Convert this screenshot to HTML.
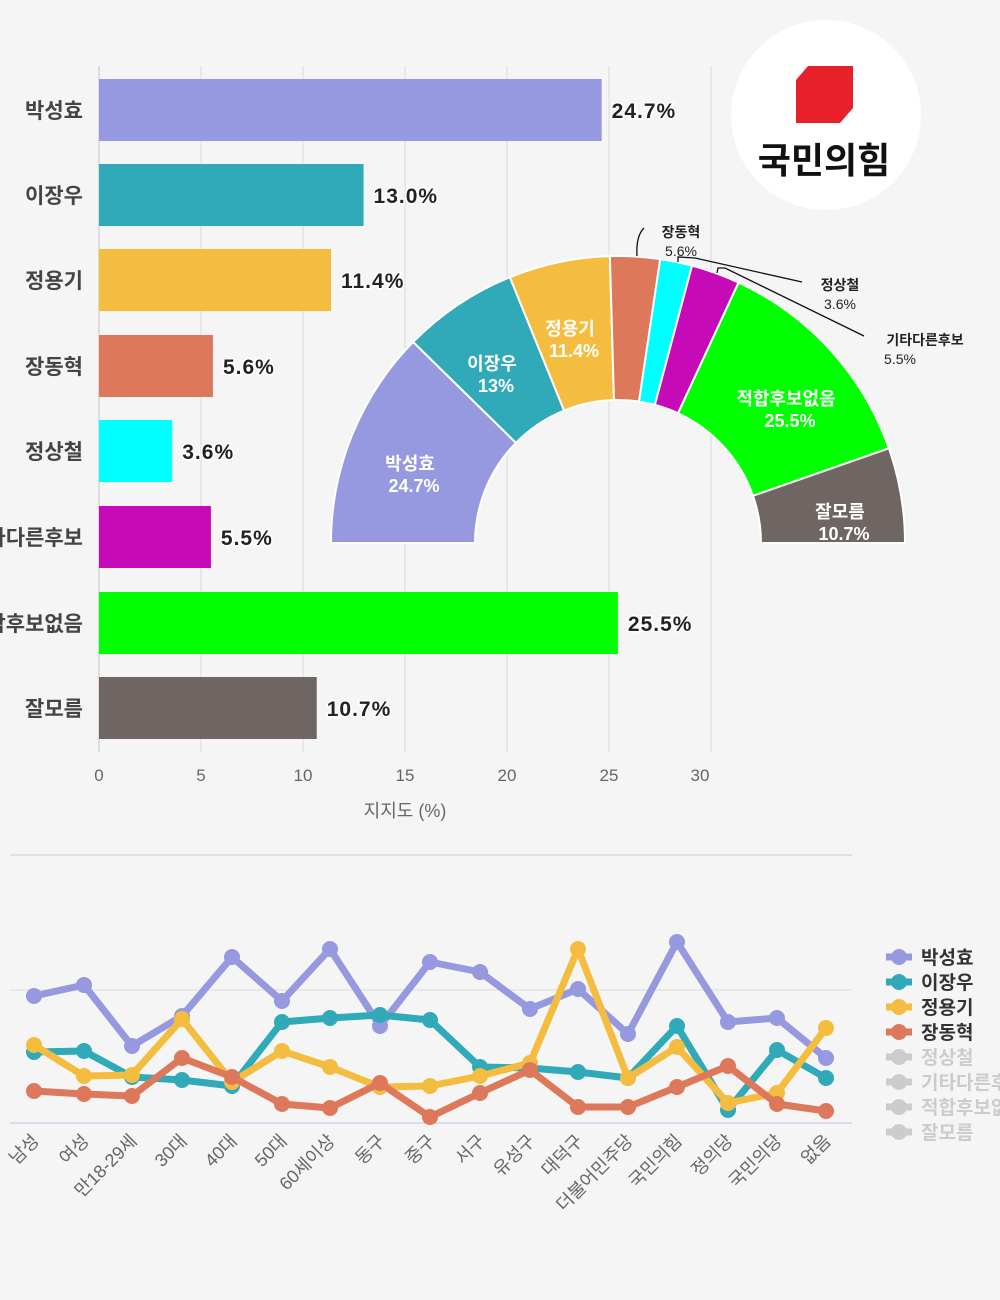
<!DOCTYPE html>
<html><head><meta charset="utf-8">
<style>
body{margin:0;background:#f5f5f5;}
svg{display:block;font-family:"Liberation Sans","Noto Sans CJK KR",sans-serif;}
</style></head><body>
<svg id="s" width="1000" height="1300" viewBox="0 0 1000 1300" xmlns="http://www.w3.org/2000/svg">
<rect width="1000" height="1300" fill="#f5f5f5"/>
<g stroke="#e3e3e3" stroke-width="1.5">
<line x1="201" y1="66" x2="201" y2="752"/><line x1="303" y1="66" x2="303" y2="752"/>
<line x1="405" y1="66" x2="405" y2="752"/><line x1="507" y1="66" x2="507" y2="752"/>
<line x1="609" y1="66" x2="609" y2="752"/><line x1="711" y1="66" x2="711" y2="752"/>
<line x1="99" y1="66" x2="99" y2="752" stroke="#ddd" stroke-width="2"/>
</g>
<g id="bars"></g>
<g fill="#666" font-size="17" text-anchor="middle">
<text x="99" y="781">0</text><text x="201" y="781">5</text><text x="303" y="781">10</text><text x="405" y="781">15</text><text x="507" y="781">20</text><text x="609" y="781">25</text><text x="700" y="781">30</text>
<text x="405" y="817" font-size="18">지지도 (%)</text>
</g>
<g id="donut"></g>
<g font-size="14" fill="#222">
<path d="M637 256 C636 240 640 232 644 228" fill="none" stroke="#111" stroke-width="1.3"/>
<text x="681" y="237" text-anchor="middle" font-weight="bold">장동혁</text><text x="681" y="256" text-anchor="middle">5.6%</text>
<path d="M678 262 L678 257 L695 258 L802 282" fill="none" stroke="#111" stroke-width="1.3"/>
<text x="840" y="290" text-anchor="middle" font-weight="bold">정상철</text><text x="840" y="309" text-anchor="middle">3.6%</text>
<path d="M717 273 L718 268 L725 268 L864 336" fill="none" stroke="#111" stroke-width="1.3"/>
<text x="925" y="345" text-anchor="middle" font-weight="bold">기타다른후보</text><text x="900" y="364" text-anchor="middle">5.5%</text>
</g>
<circle cx="826" cy="115" r="95" fill="#fff"/>
<polygon points="808,66 853,66 853,108 840,123 796,123 796,80" fill="#e8202a"/>
<text x="824" y="173" text-anchor="middle" font-size="36" font-weight="bold" fill="#111">국민의힘</text>
<line x1="10" y1="855" x2="852" y2="855" stroke="#e0e0e0" stroke-width="2"/>
<line x1="10" y1="990" x2="852" y2="990" stroke="#e3e3e3" stroke-width="1.5"/>
<line x1="10" y1="1123" x2="852" y2="1123" stroke="#ccd6eb" stroke-width="1.5"/>
<g id="lines"></g>
<g id="xl" fill="#666" font-size="18"></g>
<g id="leg" font-size="19" font-weight="bold"></g>
</svg>
<script>
var NS="http://www.w3.org/2000/svg";
function el(p,t,a,txt){var e=document.createElementNS(NS,t);for(var k in a)e.setAttribute(k,a[k]);if(txt!=null)e.textContent=txt;document.getElementById(p).appendChild(e);return e;}
var names=["박성효","이장우","정용기","장동혁","정상철","기타다른후보","적합후보없음","잘모름"];
var vals=[24.7,13.0,11.4,5.6,3.6,5.5,25.5,10.7];
var cols=["#9698e0","#30a9b8","#f4bd3f","#dd785a","#00ffff","#c70ab8","#00ff00","#6f6563"];
var ys=[110,195,280,366,451,537,623,708];
for(var i=0;i<8;i++){
 var w=vals[i]*20.35;
 el("bars","rect",{x:99,y:ys[i]-31,width:w,height:62,fill:cols[i]});
 el("bars","text",{x:99+w+10,y:ys[i]+8,"font-size":21,"font-weight":"bold",fill:"#222",stroke:"#fff","stroke-width":3,"paint-order":"stroke","letter-spacing":"1"},vals[i].toFixed(1)+"%");
 el("bars","text",{x:83,y:ys[i]+8,"font-size":21,"font-weight":"bold",fill:"#444","text-anchor":"end"},names[i]);
}
var cx=618,cy=543,R=287,r=143,cum=0;
function pt(a,rad){return [cx-rad*Math.cos(a),cy-rad*Math.sin(a)];}
var lab=[["박성효","24.7%",410,470],["이장우","13%",492,370],["정용기","11.4%",570,335],null,null,null,["적합후보없음","25.5%",786,405],["잘모름","10.7%",840,518]];
for(var i=0;i<8;i++){
 var a0=Math.PI*cum/100;cum+=vals[i];var a1=Math.PI*cum/100;
 var p0=pt(a0,R),p1=pt(a1,R),q1=pt(a1,r),q0=pt(a0,r);
 el("donut","path",{d:"M"+p0+" A"+R+" "+R+" 0 0 1 "+p1+" L"+q1+" A"+r+" "+r+" 0 0 0 "+q0+"Z",fill:cols[i],stroke:"#fff","stroke-width":2});
 if(lab[i]){el("donut","text",{x:lab[i][2],y:lab[i][3],"text-anchor":"middle","font-size":18,"font-weight":"bold",fill:"#fff"},lab[i][0]);
 el("donut","text",{x:lab[i][2]+4,y:lab[i][3]+22,"text-anchor":"middle","font-size":18,"font-weight":"bold",fill:"#fff"},lab[i][1]);}
}
var xs=[34,84,132,182,232,282,330,380,430,480,530,578,628,677,728,777,826];
var data=[[996,985,1046,1016,957,1001,949,1026,962,972,1009,989,1034,942,1022,1018,1058],
[1052,1051,1077,1080,1086,1022,1018,1015,1020,1067,1068,1072,1078,1026,1110,1050,1078],
[1045,1076,1075,1019,1082,1051,1067,1087,1086,1076,1063,949,1078,1047,1103,1093,1028],
[1091,1094,1096,1058,1077,1104,1108,1083,1117,1093,1070,1107,1107,1087,1066,1104,1111]];
for(var s=0;s<4;s++){
 var d=xs.map(function(x,j){return x+","+data[s][j];}).join(" ");
 el("lines","polyline",{points:d,fill:"none",stroke:cols[s],"stroke-width":7,"stroke-linejoin":"round"});
 for(var j=0;j<17;j++)el("lines","circle",{cx:xs[j],cy:data[s][j],r:8,fill:cols[s]});
}
var xl=["남성","여성","만18-29세","30대","40대","50대","60세이상","동구","중구","서구","유성구","대덕구","더불어민주당","국민의힘","정의당","국민의당","없음"];
for(var j=0;j<17;j++)el("xl","text",{x:xs[j]+6,y:1142,"text-anchor":"end",transform:"rotate(-45 "+(xs[j]+6)+" 1142)"},xl[j]);
for(var i=0;i<8;i++){
 var y=957+i*25,c=i<4?cols[i]:"#cccccc";
 el("leg","line",{x1:886,y1:y,x2:912,y2:y,stroke:c,"stroke-width":7});
 el("leg","circle",{cx:899,cy:y,r:8,fill:c});
 el("leg","text",{x:921,y:y+7,fill:i<4?"#333":"#cccccc"},names[i]);
}
</script>
</body></html>
